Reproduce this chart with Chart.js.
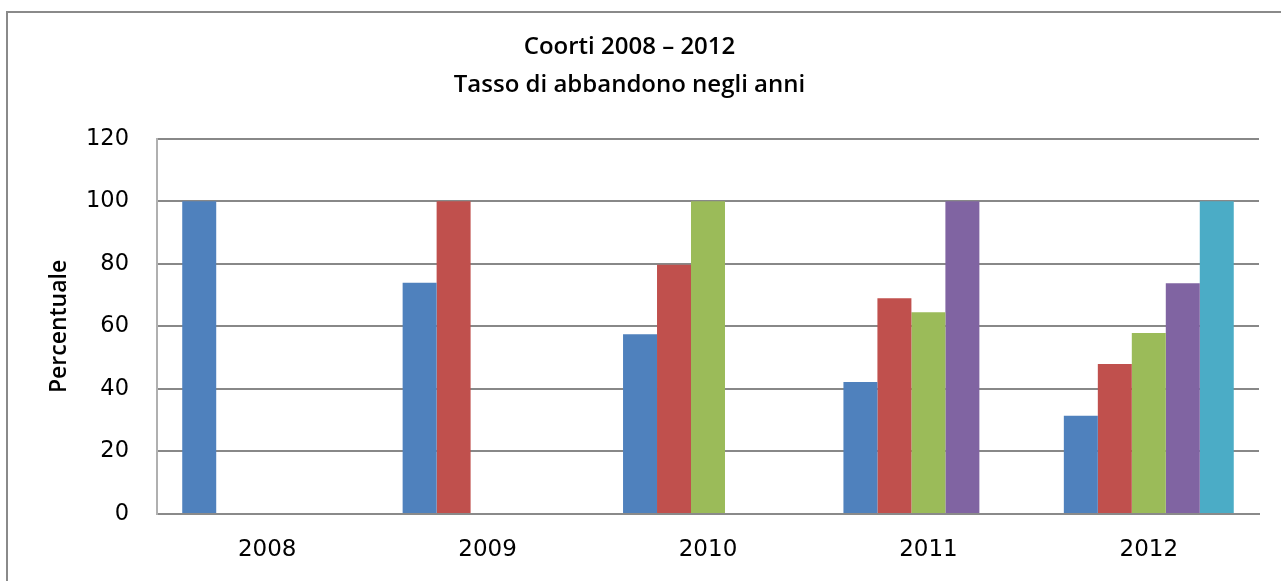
<!DOCTYPE html>
<html>
<head>
<meta charset="utf-8">
<script src="https://cdn.jsdelivr.net/npm/chart.js@4.4.0/dist/chart.umd.min.js"></script>
<style>
    body { margin: 0; background: #fff; overflow: hidden; }
    #wrap { position: relative; width: 1281px; height: 581px; overflow: hidden; }
    #frame {
        position: absolute; left: 6px; top: 11px; width: 1300px; height: 600px;
        border: 2px solid #8a8a8a; box-sizing: border-box;
    }
    canvas { position: absolute; left: 0; top: 0; }
</style>
</head>
<body>
<div id="wrap">
    <div id="frame"></div>
    <canvas id="barChart" width="1300" height="581"></canvas>
</div>
<script>
const years = ["2008", "2009", "2010", "2011", "2012"];
const coorte2008 = [100, 74, 57.5, 42.2, 31.4];
const coorte2009 = [null, 100, 79.7, 69, 48];
const coorte2010 = [null, null, 100, 64.5, 57.9];
const coorte2011 = [null, null, null, 100, 73.8];
const coorte2012 = [null, null, null, null, 100];
const yTicks = [0, 20, 40, 60, 80, 100, 120];

const colors = ["#4F81BD", "#C0504D", "#9BBB59", "#8064A2", "#4BACC6"];
const seriesNames = ["Coorte 2008", "Coorte 2009", "Coorte 2010", "Coorte 2011", "Coorte 2012"];
const seriesData = [coorte2008, coorte2009, coorte2010, coorte2011, coorte2012];

const ctx = document.getElementById("barChart").getContext("2d");

new Chart(ctx, {
    type: "bar",
    data: {
        labels: years,
        datasets: seriesData.map((d, i) => ({
            label: seriesNames[i],
            data: d,
            backgroundColor: colors[i],
            borderWidth: 0,
            categoryPercentage: 0.771,
            barPercentage: 1,
        })),
    },
    options: {
        responsive: false,
        animation: false,
        layout: {
            // canvas is wider than the page so the title centres on the frame
            padding: { left: 0, right: 41, top: 0, bottom: 0 },
        },
        plugins: {
            legend: { display: false },
            tooltip: { enabled: false },
            title: {
                display: true,
                text: ["Coorti 2008 \u2013 2012", "Tasso di abbandono negli anni"],
                color: "#000",
                font: { family: "Open Sans", size: 24, weight: "600", lineHeight: 1.58 },
                padding: { top: 28, bottom: 35 },
            },
        },
        scales: {
            x: {
                grid: { display: false },
                border: { color: "#8a8a8a", width: 2 },
                ticks: {
                    color: "#000",
                    font: { family: "DejaVu Sans", size: 23 },
                    padding: 14,
                },
                afterFit: (scale) => { scale.height = 67; },
            },
            y: {
                min: 0,
                max: 120,
                afterBuildTicks: (scale) => {
                    scale.ticks = yTicks.map((v) => ({ value: v }));
                },
                grid: { color: "#888", lineWidth: 2, drawTicks: false },
                border: { color: "#b0b0b0", width: 2 },
                ticks: {
                    color: "#000",
                    font: { family: "DejaVu Sans", size: 22.5 },
                    padding: 28,
                },
                title: {
                    display: true,
                    text: "Percentuale",
                    color: "#000",
                    font: { family: "Open Sans", size: 23, weight: "600" },
                    padding: { top: 46, bottom: 0 },
                },
                afterFit: (scale) => { scale.width = 157; },
            },
        },
    },
});
</script>
</body>
</html>
